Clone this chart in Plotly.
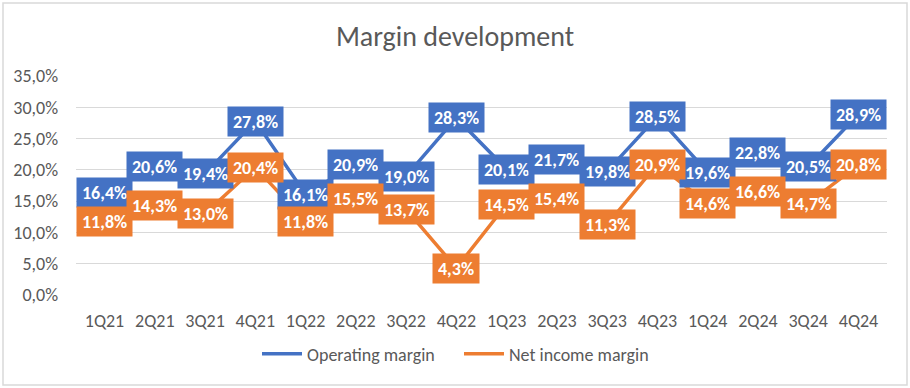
import plotly.graph_objects as go

quarters = ["1Q21", "2Q21", "3Q21", "4Q21", "1Q22", "2Q22", "3Q22", "4Q22",
            "1Q23", "2Q23", "3Q23", "4Q23", "1Q24", "2Q24", "3Q24", "4Q24"]
operating_margin = [16.4, 20.6, 19.4, 27.8, 16.1, 20.9, 19.0, 28.3,
                    20.1, 21.7, 19.8, 28.5, 19.6, 22.8, 20.5, 28.9]
net_income_margin = [11.8, 14.3, 13.0, 20.4, 11.8, 15.5, 13.7, 4.3,
                     14.5, 15.4, 11.3, 20.9, 14.6, 16.6, 14.7, 20.8]
y_ticks = [0, 5, 10, 15, 20, 25, 30, 35]

BLUE = "#4472C4"
ORANGE = "#ED7D31"
GREY = "#595959"
FONT = "Calibri, Carlito, Roboto, sans-serif"

W, H = 910, 388
L, R, T, B = 76, 23, 76, 93


def fmt(v):
    return f"{v:.1f}".replace(".", ",") + "%"


fig = go.Figure()
fig.add_trace(go.Scatter(x=quarters, y=operating_margin, mode="lines",
                         name="Operating margin",
                         line=dict(color=BLUE, width=3.5)))
fig.add_trace(go.Scatter(x=quarters, y=net_income_margin, mode="lines",
                         name="Net income margin",
                         line=dict(color=ORANGE, width=3.5)))

annotations = []
for vals, col in ((operating_margin, BLUE), (net_income_margin, ORANGE)):
    for q, v in zip(quarters, vals):
        annotations.append(dict(
            x=q, y=v, xref="x", yref="y", text="<b>" + fmt(v) + "</b>",
            showarrow=False, xanchor="center", yanchor="middle",
            bgcolor=col, borderpad=5, height=19,
            font=dict(family=FONT, size=18, color="white"),
        ))

pw = W - L - R
ph = H - T - B
fig.add_shape(type="rect", xref="paper", yref="paper",
              x0=(3 - L) / pw, x1=(907 - L) / pw,
              y0=(H - B - 385) / ph, y1=(H - B - 3) / ph,
              line=dict(color="#D9D9D9", width=1.5), fillcolor="rgba(0,0,0,0)",
              layer="below")

fig.update_layout(
    width=W, height=H,
    margin=dict(l=L, r=R, t=T, b=B, autoexpand=False),
    paper_bgcolor="white", plot_bgcolor="white",
    annotations=annotations,
    title=dict(text="Margin development", x=0.5, xref="container",
               y=1 - 36 / H, yref="container", xanchor="center", yanchor="middle",
               font=dict(family=FONT, size=28, color=GREY, weight=300)),
    showlegend=True,
    legend=dict(orientation="h", x=0.5 + 4 / W, xref="container", xanchor="center",
                y=1 - 354 / H, yref="container", yanchor="middle",
                font=dict(family=FONT, size=18, color=GREY),
                itemwidth=40, entrywidth=147, traceorder="normal"),
    xaxis=dict(type="category", showgrid=False, zeroline=False,
               showline=False, ticks="", ticklabelstandoff=13,
               automargin=False,
               tickfont=dict(family=FONT, size=18, color=GREY),
               fixedrange=True),
    yaxis=dict(range=[0, 35], tickmode="array", tickvals=y_ticks,
               ticktext=[fmt(t) for t in y_ticks],
               showgrid=True, gridcolor="#D9D9D9",
               gridwidth=1, zeroline=False, showline=False,
               ticklabelstandoff=17, automargin=False,
               tickfont=dict(family=FONT, size=18, color=GREY),
               fixedrange=True),
)

fig.write_html("out.html", config={"displayModeBar": False},
               post_script="document.body.style.margin='0';document.body.style.overflow='hidden';")
